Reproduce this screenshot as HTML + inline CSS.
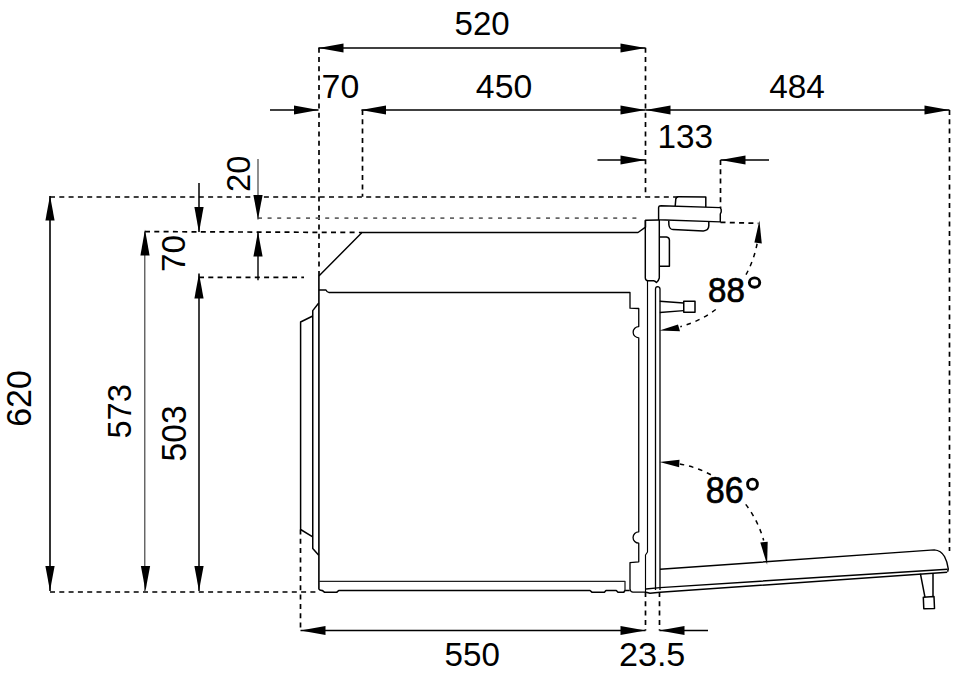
<!DOCTYPE html>
<html><head><meta charset="utf-8"><style>
html,body{margin:0;padding:0;background:#fff;}
svg{display:block;}
text{font-family:"Liberation Sans",sans-serif;fill:#000;}
</style></head><body>
<svg width="960" height="679" viewBox="0 0 960 679">
<rect width="960" height="679" fill="#fff"/>
<line x1="319" y1="47.7" x2="319" y2="276" stroke="#000" stroke-width="1.7" stroke-dasharray="5 4.3"/>
<line x1="645.5" y1="47.7" x2="645.5" y2="196.8" stroke="#000" stroke-width="1.7" stroke-dasharray="5 4.3"/>
<line x1="362.5" y1="110" x2="362.5" y2="196.8" stroke="#000" stroke-width="1.7" stroke-dasharray="5 4.3"/>
<line x1="720.5" y1="160" x2="720.5" y2="208" stroke="#000" stroke-width="1.7" stroke-dasharray="5 4.3"/>
<line x1="949.5" y1="110" x2="949.5" y2="551" stroke="#000" stroke-width="1.7" stroke-dasharray="5 4.3"/>
<line x1="50" y1="197" x2="680" y2="197" stroke="#000" stroke-width="1.7" stroke-dasharray="5 4.3"/>
<line x1="258" y1="218.2" x2="641.6" y2="218.2" stroke="#666" stroke-width="1.8" stroke-dasharray="4 5.6"/>
<line x1="145" y1="231.6" x2="362" y2="232.5" stroke="#000" stroke-width="1.7" stroke-dasharray="5 4.3"/>
<line x1="199" y1="277.4" x2="304" y2="277.4" stroke="#000" stroke-width="1.7" stroke-dasharray="5 4.3"/>
<line x1="50" y1="592" x2="319" y2="592" stroke="#000" stroke-width="1.7" stroke-dasharray="5 4.3"/>
<line x1="300.5" y1="529.5" x2="300.5" y2="630.5" stroke="#000" stroke-width="1.7" stroke-dasharray="5 4.3"/>
<line x1="645.5" y1="592" x2="645.5" y2="630.5" stroke="#000" stroke-width="1.7" stroke-dasharray="5 4.3"/>
<line x1="659.5" y1="592" x2="659.5" y2="630.5" stroke="#000" stroke-width="1.7" stroke-dasharray="5 4.3"/>
<line x1="720.5" y1="222.3" x2="758.5" y2="223.3" stroke="#000" stroke-width="1.7" stroke-dasharray="5 4.3"/>
<line x1="318.5" y1="48" x2="645.5" y2="48" stroke="#000" stroke-width="1.3"/>
<polygon points="318.50,48.00 343.50,43.40 343.50,52.60" fill="#000"/>
<polygon points="645.50,48.00 620.50,52.60 620.50,43.40" fill="#000"/>
<line x1="270" y1="110" x2="318.5" y2="110" stroke="#000" stroke-width="1.3"/>
<polygon points="318.50,110.00 294.00,114.60 294.00,105.40" fill="#000"/>
<line x1="361.5" y1="110" x2="645.5" y2="110" stroke="#000" stroke-width="1.3"/>
<polygon points="361.00,110.00 386.00,105.40 386.00,114.60" fill="#000"/>
<polygon points="645.50,110.00 620.50,114.60 620.50,105.40" fill="#000"/>
<line x1="645.5" y1="110" x2="949.5" y2="110" stroke="#000" stroke-width="1.3"/>
<polygon points="645.50,110.00 670.50,105.40 670.50,114.60" fill="#000"/>
<polygon points="949.50,110.00 924.50,114.60 924.50,105.40" fill="#000"/>
<line x1="597.5" y1="160" x2="645.5" y2="160" stroke="#000" stroke-width="1.3"/>
<polygon points="645.50,160.00 620.50,164.60 620.50,155.40" fill="#000"/>
<line x1="720.5" y1="160" x2="769" y2="160" stroke="#000" stroke-width="1.3"/>
<polygon points="720.50,160.00 745.50,155.40 745.50,164.60" fill="#000"/>
<line x1="50" y1="196" x2="50" y2="591" stroke="#000" stroke-width="1.6"/>
<polygon points="50.00,195.60 54.60,220.60 45.40,220.60" fill="#000"/>
<polygon points="50.00,591.00 45.40,566.00 54.60,566.00" fill="#000"/>
<line x1="144.8" y1="231.5" x2="144.8" y2="591" stroke="#333" stroke-width="1.1"/>
<polygon points="145.00,229.50 149.60,255.50 140.40,255.50" fill="#000"/>
<polygon points="145.50,591.00 140.90,566.00 150.10,566.00" fill="#000"/>
<line x1="199" y1="273.6" x2="199" y2="591" stroke="#000" stroke-width="1.5"/>
<polygon points="199.00,273.60 203.60,298.60 194.40,298.60" fill="#000"/>
<polygon points="199.00,591.00 194.40,566.00 203.60,566.00" fill="#000"/>
<line x1="199" y1="183" x2="199" y2="232" stroke="#000" stroke-width="1.5"/>
<polygon points="199.00,232.50 194.40,207.00 203.60,207.00" fill="#000"/>
<line x1="258" y1="159" x2="258" y2="219.5" stroke="#444" stroke-width="1.2"/>
<polygon points="258.00,219.50 253.40,195.00 262.60,195.00" fill="#000"/>
<line x1="258" y1="231.7" x2="258" y2="280.2" stroke="#000" stroke-width="1.4"/>
<polygon points="258.00,231.70 262.60,256.50 253.40,256.50" fill="#000"/>
<line x1="300.5" y1="630.5" x2="645.5" y2="630.5" stroke="#000" stroke-width="1.4"/>
<polygon points="300.50,630.50 325.50,625.90 325.50,635.10" fill="#000"/>
<polygon points="645.50,630.50 620.50,635.10 620.50,625.90" fill="#000"/>
<line x1="659.5" y1="630.5" x2="708" y2="630.5" stroke="#000" stroke-width="1.4"/>
<polygon points="659.50,630.50 684.50,625.90 684.50,635.10" fill="#000"/>
<path d="M318.9,276 L362,232.5 L638,232.5 L645.5,227.2 L645.5,220.3 L658.8,220" stroke="#000" stroke-width="1.45" fill="none" stroke-linejoin="round"/>
<path d="M318.9,276 L318.9,589 Q319.5,590.5 322.5,590.6 L324.4,592.2 L336.9,592.2 L338.75,590.5 L590,590.5 L591.9,592.2 L604.4,592.2 L606,590.5 L616.25,590.5 L618,592.2 L623.75,592.2 L625,590.5 L629.75,590.5" stroke="#000" stroke-width="1.6" fill="none" stroke-linejoin="round"/>
<path d="M318.9,290 L326,290 Q327,292.5 329,292.5 L630,292.5 L630,308.2 L638.75,308.5 L638.75,326.6 A5.5,5.5 0 0 0 638.75,337.8 L638.75,531.8 A5.5,5.5 0 0 0 638.75,543.2 L638.75,561.8 L630,562.6 L630,589 Q630.5,592.2 633,592.2 L645.5,592.2" stroke="#000" stroke-width="1.3" fill="none" stroke-linejoin="round"/>
<path d="M318.9,581.3 L625,581.3 L625,590.5" stroke="#222" stroke-width="1.3" fill="none" stroke-linejoin="round"/>
<path d="M318.75,303 L312.75,310.6 L312.75,548.6 L318.75,555.2" stroke="#000" stroke-width="1.5" fill="none" stroke-linejoin="round"/>
<path d="M312.75,316 L300.6,322 L300.6,529.5 L312.75,536.8" stroke="#000" stroke-width="1.5" fill="none" stroke-linejoin="round"/>
<path d="M645.3,220.3 L645.3,278 Q645.5,280.7 648,280.7 L653.5,280.7 Q655,280.7 656.5,282.5 Q658.5,281 659.3,278 L659.3,220" stroke="#000" stroke-width="1.45" fill="none" stroke-linejoin="round"/>
<path d="M659.4,236.9 L666.5,236.9 Q669.4,237.5 669.4,240 L669.4,266.25 L659.4,266.25" stroke="#000" stroke-width="1.5" fill="none" stroke-linejoin="round"/>
<path d="M647.5,281 L647.5,552 L645.5,555 L645.5,592.2" stroke="#000" stroke-width="1.15" fill="none" stroke-linejoin="round"/>
<path d="M655.5,590 L655.5,289 Q655.6,286.6 657.5,286.6 Q660,286.8 660,289 L660,590" stroke="#000" stroke-width="1.3" fill="none" stroke-linejoin="round"/>
<path d="M658.6,219.7 L658.6,207.5 Q658.8,205.7 661,205.7 L720.3,207.6 L721.2,209.5 L721.2,212 L720.3,214 L720.3,221.9 Z" stroke="#000" stroke-width="1.45" fill="#fff" stroke-linejoin="round"/>
<path d="M675.2,206 L675.8,199 Q676.3,196.8 678.5,196.8 L705.8,197 L705.8,207.1" stroke="#000" stroke-width="1.5" fill="none" stroke-linejoin="round"/>
<path d="M668.75,220.8 L668.9,225 Q669.6,229.4 673,229.6 L703.3,230.9 Q708.7,230.6 708.8,225.8 L708.8,222" stroke="#000" stroke-width="1.5" fill="none" stroke-linejoin="round"/>
<path d="M659.8,301.25 L683.75,303 M659.8,312.5 L683.75,310.6" stroke="#000" stroke-width="1.3" fill="none" stroke-linejoin="round"/>
<path d="M683.75,301.25 L695,301.25 L695,312.3 L683.75,312.3 Z" stroke="#000" stroke-width="1.5" fill="none" stroke-linejoin="round"/>
<path d="M660,569.3 L934.3,549.9 Q941,550.5 944.5,556.5 Q947.5,562 948.3,569 L947.6,571.7" stroke="#000" stroke-width="1.45" fill="none" stroke-linejoin="round"/>
<path d="M646,589 L660,587.6 L947.6,569.2" stroke="#000" stroke-width="1.45" fill="none" stroke-linejoin="round"/>
<path d="M646,592.2 L650,593.3 L660,592.3 L947.2,572.2" stroke="#000" stroke-width="1.45" fill="none" stroke-linejoin="round"/>
<path d="M920.4,573.6 L925,597.3 M933,573.2 L933,596.4" stroke="#000" stroke-width="1.5" fill="none" stroke-linejoin="round"/>
<path d="M923.3,597.2 L934,596.6 L934.5,608.5 L923.8,608.8 Z" stroke="#000" stroke-width="1.5" fill="none" stroke-linejoin="round"/>
<path d="M757.09,243.74 A106.9,106.9 0 0 1 745.50,275.60" stroke="#000" stroke-width="1.5" fill="none" stroke-dasharray="4.5 5" stroke-linejoin="round"/>
<path d="M715.76,309.48 A106.9,106.9 0 0 1 680.33,326.71" stroke="#000" stroke-width="1.5" fill="none" stroke-dasharray="4.5 5" stroke-linejoin="round"/>
<polygon points="759.40,220.60 754.40,242.40 761.80,243.40" fill="#000"/>
<polygon points="659.40,330.60 678.00,324.40 680.00,331.20" fill="#000"/>
<path d="M679.78,463.99 A106.6,106.6 0 0 1 712.28,475.50" stroke="#000" stroke-width="1.5" fill="none" stroke-dasharray="4.5 5" stroke-linejoin="round"/>
<path d="M745.73,504.35 A106.6,106.6 0 0 1 763.66,540.54" stroke="#000" stroke-width="1.5" fill="none" stroke-dasharray="4.5 5" stroke-linejoin="round"/>
<polygon points="659.50,461.90 679.50,459.80 679.10,467.30" fill="#000"/>
<polygon points="767.10,564.80 760.30,542.40 767.70,541.80" fill="#000"/>
<text font-size="32.82" transform="translate(454.58,34.77) scale(1.0071,1)">520</text>
<text font-size="32.39" transform="translate(321.56,97.68) scale(1.0456,1)">70</text>
<text font-size="32.39" transform="translate(475.87,97.58) scale(1.0430,1)">450</text>
<text font-size="32.39" transform="translate(769.23,97.58) scale(1.0290,1)">484</text>
<text font-size="33.38" transform="translate(657.44,148.37) scale(0.9979,1)">133</text>
<text font-size="32.82" transform="translate(444.57,666.37) scale(1.0100,1)">550</text>
<text font-size="33.10" transform="translate(618.89,666.17) scale(1.0321,1)">23.5</text>
<text font-size="34.86" transform="translate(30.60,426.80) rotate(-90) scale(0.9732,1)">620</text>
<text font-size="32.39" transform="translate(131.08,438.61) rotate(-90) scale(1.0101,1)">573</text>
<text font-size="34.51" transform="translate(185.55,461.44) rotate(-90) scale(0.9739,1)">503</text>
<text font-size="32.82" transform="translate(249.87,191.93) rotate(-90) scale(0.9948,1)">20</text>
<text font-size="32.82" transform="translate(184.77,271.96) rotate(-90) scale(1.0127,1)">70</text>
<text font-size="35.63" stroke="#000" stroke-width="0.7" transform="translate(708.08,301.84) scale(0.9291,1)">88</text>
<text font-size="36.62" stroke="#000" stroke-width="0.7" transform="translate(705.83,503.43) scale(0.9332,1)">86</text>
<ellipse cx="754.55" cy="282.6" rx="5.2" ry="4.7" fill="none" stroke="#000" stroke-width="2.9"/>
<ellipse cx="752.5" cy="484.2" rx="4.9" ry="5.1" fill="none" stroke="#000" stroke-width="2.9"/>
</svg>
</body></html>
